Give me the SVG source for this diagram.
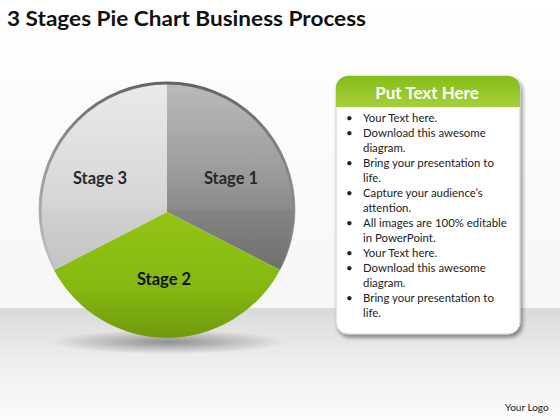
<svg xmlns="http://www.w3.org/2000/svg" width="560" height="420" viewBox="0 0 560 420">
<defs>
<style>
.title{font-family:Lato,"Liberation Sans",sans-serif;font-weight:bold;font-size:20px;fill:#111}
.stage{font-family:Lato,"Liberation Sans",sans-serif;font-weight:bold;font-size:16.5px;fill:#111;text-anchor:middle}
.body{font-family:Lato,"Liberation Sans",sans-serif;font-size:11.4px;fill:#222}
.head{font-family:Lato,"Liberation Sans",sans-serif;font-weight:bold;font-size:17px;fill:#fff;text-anchor:middle}
.logo{font-family:Lato,"Liberation Sans",sans-serif;font-size:10px;fill:#222}
</style>
<linearGradient id="bg" x1="0" y1="0" x2="0" y2="1">
<stop offset="0" stop-color="#ffffff"/>
<stop offset="1" stop-color="#f3f3f3"/>
</linearGradient>
<linearGradient id="floor" x1="0" y1="0" x2="0" y2="1">
<stop offset="0" stop-color="#dadada"/>
<stop offset="0.5" stop-color="#efefef"/>
<stop offset="1" stop-color="#fbfbfb"/>
</linearGradient>
<linearGradient id="g1" x1="0" y1="0" x2="0" y2="1">
<stop offset="0" stop-color="#a8a8a8"/>
<stop offset="0.5" stop-color="#909090"/>
<stop offset="1" stop-color="#6f6f6f"/>
</linearGradient>
<linearGradient id="g3" x1="0" y1="0" x2="0" y2="1">
<stop offset="0" stop-color="#e4e4e4"/>
<stop offset="0.55" stop-color="#d6d6d6"/>
<stop offset="1" stop-color="#c4c4c4"/>
</linearGradient>
<linearGradient id="g2" x1="0" y1="0" x2="0" y2="1">
<stop offset="0" stop-color="#93c414"/>
<stop offset="0.6" stop-color="#86b812"/>
<stop offset="1" stop-color="#6f9a0e"/>
</linearGradient>
<linearGradient id="rim" x1="0" y1="0" x2="0" y2="1">
<stop offset="0" stop-color="#5e5e5e" stop-opacity="0.95"/>
<stop offset="0.55" stop-color="#8a8a8a" stop-opacity="0.5"/>
<stop offset="0.75" stop-color="#8a8a8a" stop-opacity="0"/>
</linearGradient>
<linearGradient id="gloss" x1="0" y1="0" x2="0" y2="1">
<stop offset="0" stop-color="#ffffff" stop-opacity="0.35"/>
<stop offset="1" stop-color="#ffffff" stop-opacity="0.08"/>
</linearGradient>
<linearGradient id="hdr" x1="0" y1="0" x2="0" y2="1">
<stop offset="0" stop-color="#86bd1a"/>
<stop offset="1" stop-color="#a3d03a"/>
</linearGradient>
<radialGradient id="shadow" cx="0.5" cy="0.5" r="0.5">
<stop offset="0" stop-color="#555" stop-opacity="0.6"/>
<stop offset="1" stop-color="#555" stop-opacity="0"/>
</radialGradient>
<filter id="ps" x="-10%" y="-10%" width="130%" height="130%">
<feGaussianBlur in="SourceAlpha" stdDeviation="2"/>
<feOffset dx="2" dy="3"/>
<feComponentTransfer><feFuncA type="linear" slope="0.45"/></feComponentTransfer>
<feMerge><feMergeNode/><feMergeNode in="SourceGraphic"/></feMerge>
</filter>
</defs>
<rect width="560" height="420" fill="url(#bg)"/>
<rect y="308" width="560" height="112" fill="url(#floor)"/>
<text class="title" x="7" y="26" textLength="359" lengthAdjust="spacingAndGlyphs">3 Stages Pie Chart Business Process</text>
<ellipse cx="168" cy="342" rx="118" ry="12" fill="url(#shadow)"/>
<g id="stage1">
<path d="M167,212 L167,82 A128,128 0 0 1 280,270 Z" fill="url(#g1)"/>
<text class="stage" x="231" y="184">Stage 1</text>
</g>
<g id="stage2">
<path d="M167,212 L280,270 A128,128 0 0 1 54,270 Z" fill="url(#g2)"/>
<text class="stage" x="164" y="285">Stage 2</text>
</g>
<g id="stage3">
<path d="M167,212 L54,270 A128,128 0 0 1 167,82 Z" fill="url(#g3)"/>
<text class="stage" x="100" y="184">Stage 3</text>
</g>
<path d="M39,210 A128,128 0 0 1 295,210 Z" fill="url(#gloss)" opacity="0.6"/>
<circle cx="167" cy="210" r="127" fill="none" stroke="url(#rim)" stroke-width="3"/>
<g id="panel">
<rect x="336" y="76" width="184" height="258" rx="12" fill="#fff" stroke="#d0d0d0" stroke-width="1" filter="url(#ps)"/>
<path d="M336,107 L336,88 A12,12 0 0 1 348,76 L508,76 A12,12 0 0 1 520,88 L520,107 Z" fill="url(#hdr)"/>
<text class="head" x="427" y="99">Put Text Here</text>
<g class="body">
<text x="346" y="122">•</text><text x="363" y="122">Your Text here.</text>
<text x="346" y="137">•</text><text x="363" y="137">Download this awesome</text>
<text x="363" y="152">diagram.</text>
<text x="346" y="167">•</text><text x="363" y="167">Bring your presentation to</text>
<text x="363" y="182">life.</text>
<text x="346" y="197">•</text><text x="363" y="197">Capture your audience’s</text>
<text x="363" y="212">attention.</text>
<text x="346" y="227">•</text><text x="363" y="227">All images are 100% editable</text>
<text x="363" y="242">in PowerPoint.</text>
<text x="346" y="257">•</text><text x="363" y="257">Your Text here.</text>
<text x="346" y="272">•</text><text x="363" y="272">Download this awesome</text>
<text x="363" y="287">diagram.</text>
<text x="346" y="302">•</text><text x="363" y="302">Bring your presentation to</text>
<text x="363" y="317">life.</text>
</g>
</g>
<text class="logo" x="505" y="411">Your Logo</text>
</svg>
